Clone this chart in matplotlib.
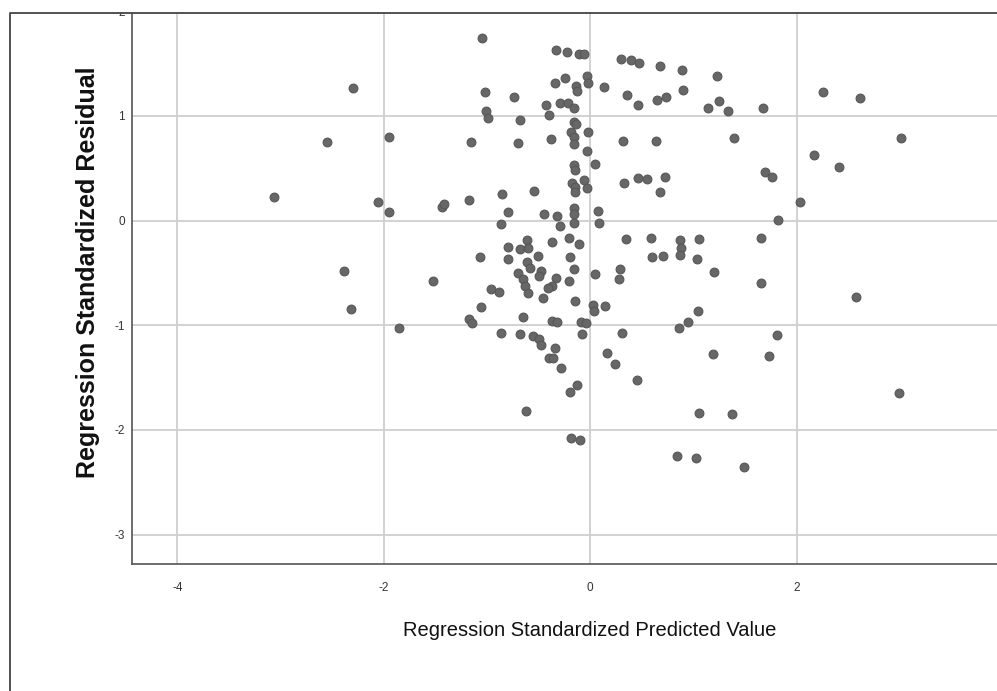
import matplotlib
matplotlib.use("Agg")
import matplotlib.pyplot as plt
from matplotlib.lines import Line2D
from matplotlib.patches import Rectangle

plt.rcParams["axes.unicode_minus"] = False

# values
pred = [-3.06, -2.30, -2.55, -2.39, -2.32, -1.95, -2.06, -1.95, -1.85, -1.52,
        -1.44, -1.42, -1.18, -1.16, -1.05, -1.02, -1.01, -0.99, -1.07, -0.96,
        -0.88, -1.06, -1.18, -1.15, -0.87, -0.74, -0.68, -0.70, -0.86, -0.80,
        -0.87, -0.55, -0.45, -0.80, -0.80, -0.68, -0.61, -0.60, -0.51, -0.61,
        -0.58, -0.70, -0.65, -0.63, -0.60, -0.48, -0.50, -0.46, -0.65, -0.68,
        -0.56, -0.50, -0.48, -0.40, -0.62, -0.43, -0.40, -0.34, -0.25, -0.33,
        -0.23, -0.11, -0.06, -0.29, -0.22, -0.16, -0.14, -0.13, -0.03, -0.02,
        0.13, -0.16, -0.14, -0.19, -0.16, -0.16, -0.02, -0.38, -0.03, -0.16,
        -0.15, 0.05, -0.18, -0.15, -0.15, -0.06, -0.03, -0.32, -0.29, -0.16,
        -0.16, -0.16, 0.07, 0.08, -0.37, -0.21, -0.11, -0.20, -0.16, -0.33,
        -0.37, -0.41, -0.21, -0.15, 0.05, 0.03, 0.04, 0.14, -0.37, -0.32,
        -0.09, -0.04, -0.08, -0.34, -0.36, -0.28, -0.13, -0.20, -0.19, -0.10,
        0.16, 0.24, 0.45, 0.30, 0.39, 0.47, 0.68, 0.89, 1.23, 0.36,
        0.46, 0.65, 0.73, 0.90, 1.14, 1.25, 1.33, 1.67, 0.32, 0.64,
        1.39, 0.33, 0.46, 0.55, 0.72, 0.68, 1.69, 1.76, 0.35, 0.59,
        0.87, 0.88, 0.87, 1.05, 0.60, 0.70, 1.03, 0.29, 0.28, 1.20,
        1.65, 1.65, 1.04, 0.86, 0.95, 0.31, 1.19, 1.73, 1.05, 1.37,
        0.84, 1.02, 1.49, 1.82, 2.03, 2.17, 2.41, 2.25, 2.61, 3.01,
        2.99, 2.57, 1.81]
resid = [0.23, 1.27, 0.75, -0.48, -0.84, 0.80, 0.18, 0.08, -1.03, -0.58,
         0.13, 0.16, 0.20, 0.75, 1.74, 1.23, 1.05, 0.98, -0.35, -0.65,
         -0.68, -0.83, -0.94, -0.98, -1.07, 1.18, 0.96, 0.74, 0.25, 0.08,
         -0.03, 0.28, 0.06, -0.25, -0.37, -0.27, -0.19, -0.26, -0.34, -0.40,
         -0.45, -0.50, -0.56, -0.62, -0.69, -0.48, -0.53, -0.74, -0.92, -1.08,
         -1.10, -1.13, -1.19, -1.31, -1.82, 1.10, 1.01, 1.31, 1.36, 1.63,
         1.61, 1.59, 1.59, 1.12, 1.12, 1.08, 1.29, 1.24, 1.38, 1.31,
         1.28, 0.94, 0.92, 0.85, 0.80, 0.73, 0.85, 0.78, 0.66, 0.53,
         0.48, 0.54, 0.36, 0.32, 0.27, 0.39, 0.31, 0.04, -0.05, 0.12,
         0.06, -0.02, 0.09, -0.02, -0.20, -0.17, -0.22, -0.35, -0.46, -0.55,
         -0.62, -0.64, -0.58, -0.77, -0.51, -0.81, -0.86, -0.82, -0.96, -0.97,
         -0.97, -0.98, -1.08, -1.22, -1.31, -1.41, -1.57, -1.64, -2.08, -2.10,
         -1.26, -1.37, -1.52, 1.54, 1.53, 1.51, 1.48, 1.44, 1.38, 1.20,
         1.10, 1.15, 1.18, 1.25, 1.08, 1.14, 1.05, 1.08, 0.76, 0.76,
         0.79, 0.36, 0.41, 0.40, 0.42, 0.27, 0.46, 0.42, -0.18, -0.17,
         -0.19, -0.26, -0.33, -0.18, -0.35, -0.34, -0.37, -0.46, -0.56, -0.49,
         -0.17, -0.60, -0.86, -1.03, -0.97, -1.07, -1.27, -1.29, -1.84, -1.85,
         -2.25, -2.27, -2.35, 0.01, 0.18, 0.63, 0.51, 1.23, 1.17, 0.79,
         -1.65, -0.73, -1.09]

xticks = [-4, -2, 0, 2]
yticks = [-3, -2, -1, 0, 1, 2]

W, H = 997, 691
fig = plt.figure(figsize=(W / 100, H / 100), dpi=100)
fig.patch.set_facecolor("white")

ax_left, ax_top, ax_bot = 132, 11.2, 564
ax = fig.add_axes([ax_left / W, 1 - ax_bot / H, 1 - ax_left / W, (ax_bot - ax_top) / H])
ax.set_facecolor("white")

ax.scatter(pred, resid, s=40, color="#676767", edgecolors="#575757",
           linewidths=0.8, zorder=3)

ax.set_xlim(-4.44, 3.94)
ax.set_ylim(-3.28, 2.0)
ax.set_xticks(xticks)
ax.set_yticks(yticks)
ax.grid(True, color="#cfcfcf", lw=1.3, zorder=0)

for s in ["top", "right"]:
    ax.spines[s].set_visible(False)
for s in ["left", "bottom"]:
    ax.spines[s].set_color("#555555")
    ax.spines[s].set_linewidth(1.2)

ax.tick_params(axis="both", length=0, labelsize=8.5, labelcolor="#333333")
ax.tick_params(axis="x", pad=13)
ax.tick_params(axis="y", pad=5)
for lab in ax.get_xticklabels() + ax.get_yticklabels():
    lab.set_family("Liberation Sans")

fig.text(88 / W, 1 - 272 / H, "Regression Standardized Residual", rotation=90,
         ha="center", va="center", fontsize=18, fontweight="bold",
         family="Liberation Sans", color="#111111")
fig.text(590 / W, 1 - 630 / H, "Regression Standardized Predicted Value",
         ha="center", va="center", fontsize=14.5,
         family="Liberation Sans", color="#111111")

# outer frame of the exported chart
fig.patches.append(Rectangle((0, 1 - 13 / H), 1, 13 / H, transform=fig.transFigure,
                             facecolor="white", edgecolor="none", zorder=10))
fig.lines.append(Line2D([10 / W, 10 / W, 1], [0, 1 - 13 / H, 1 - 13 / H],
                        transform=fig.transFigure, color="#444444", lw=1.3, zorder=11))

fig.savefig("out.png", dpi=100)
